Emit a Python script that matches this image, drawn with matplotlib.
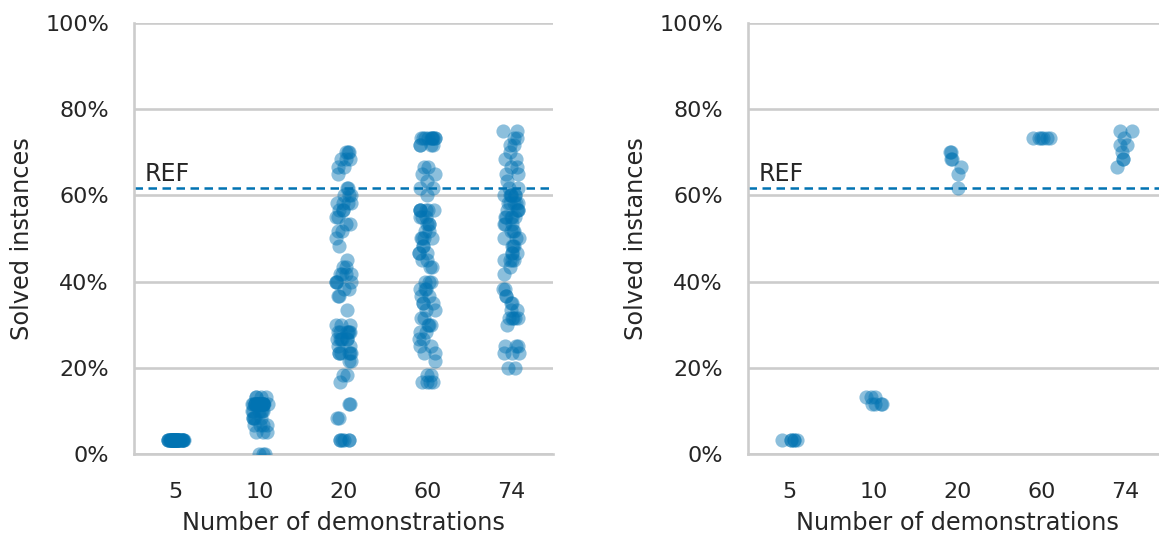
import numpy as np
import pandas as pd
import matplotlib
matplotlib.use("Agg")
import matplotlib.pyplot as plt
import seaborn as sns
from matplotlib.ticker import PercentFormatter

categories = ["5", "10", "20", "60", "74"]
ref_value = 61.67

# ---- left panel: solved-instance percentages (value, count) per category ----
left_5_vals = [3.33]
left_5_counts = [45]
left_10_vals = [13.33, 11.67, 10.0, 8.33, 6.67, 5.0, 0.0]
left_10_counts = [4, 22, 6, 5, 4, 3, 3]
left_20_vals = [70.0, 68.33, 66.67, 65.0, 61.67, 60.0, 58.33, 56.67, 55.0, 53.33,
                51.67, 50.0, 48.33, 45.0, 43.33, 41.67, 40.0, 38.33, 36.67, 33.33,
                30.0, 28.33, 26.67, 25.0, 23.33, 21.67, 18.33, 16.67, 11.67, 8.33, 3.33]
left_20_counts = [3, 3, 2, 1, 2, 3, 4, 3, 2, 2,
                  2, 1, 1, 1, 2, 4, 4, 2, 2, 1,
                  3, 6, 6, 2, 6, 2, 2, 1, 2, 2, 6]
left_60_vals = [73.33, 71.67, 66.67, 65.0, 63.33, 61.67, 60.0, 56.67, 55.0, 53.33,
                51.67, 50.0, 48.33, 46.67, 45.0, 43.33, 40.0, 38.33, 36.67, 35.0,
                33.33, 31.67, 30.0, 28.33, 26.67, 25.0, 23.33, 21.67, 18.33, 16.67]
left_60_counts = [10, 4, 2, 2, 1, 2, 1, 6, 3, 3,
                  2, 4, 2, 3, 2, 2, 3, 3, 2, 3,
                  2, 2, 3, 2, 2, 2, 2, 1, 2, 4]
left_74_vals = [75.0, 73.33, 71.67, 70.0, 68.33, 66.67, 65.0, 63.33, 61.67, 60.0,
                58.33, 56.67, 55.0, 53.33, 51.67, 50.0, 48.33, 46.67, 45.0, 43.33,
                41.67, 38.33, 36.67, 35.0, 33.33, 31.67, 30.0, 25.0, 23.33, 20.0]
left_74_counts = [2, 2, 2, 1, 2, 2, 2, 1, 2, 6,
                  5, 4, 5, 3, 3, 3, 3, 3, 4, 1,
                  1, 2, 2, 2, 2, 5, 1, 3, 3, 2]

# ---- right panel: solved-instance percentages ----
right_5 = [3.33, 3.33, 3.33, 3.33, 3.33, 3.33]
right_10 = [13.33, 13.33, 13.33, 11.67, 11.67, 11.67, 11.67]
right_20 = [70.0, 70.0, 68.33, 68.33, 66.67, 65.0, 61.67]
right_60 = [73.33, 73.33, 73.33, 73.33, 73.33, 73.33]
right_74 = [75.0, 75.0, 73.33, 71.67, 71.67, 70.0, 68.33, 68.33, 66.67]

left_groups = {
    "5": (left_5_vals, left_5_counts),
    "10": (left_10_vals, left_10_counts),
    "20": (left_20_vals, left_20_counts),
    "60": (left_60_vals, left_60_counts),
    "74": (left_74_vals, left_74_counts),
}
right_groups = {"5": right_5, "10": right_10, "20": right_20, "60": right_60, "74": right_74}

rows = []
for cat, (vals, cnts) in left_groups.items():
    for v, c in zip(vals, cnts):
        rows += [(cat, v)] * c
df_left = pd.DataFrame(rows, columns=["demos", "solved"])
rows = []
for cat, vals in right_groups.items():
    rows += [(cat, v) for v in vals]
df_right = pd.DataFrame(rows, columns=["demos", "solved"])

sns.set_theme(style="whitegrid")
plt.rcParams["font.family"] = ["DejaVu Sans"]
TEXT = "#262626"
BLUE = "#0173b2"
GRID = "#cccccc"

np.random.seed(3)
fig = plt.figure(figsize=(11.59, 5.35), dpi=100)
W, H = 1159, 535
axes = []
for left_px in (134, 748):
    ax = fig.add_axes([left_px / W, 81 / H, 419 / W, 431 / H])
    axes.append(ax)

for ax, df in zip(axes, (df_left, df_right)):
    sns.stripplot(data=df, x="demos", y="solved", order=categories, ax=ax,
                  color=BLUE, alpha=0.45, size=10.2, linewidth=0, jitter=True)
    ax.axhline(ref_value, color=BLUE, linestyle=(0, (3.4, 2.2)), linewidth=1.8, zorder=1)
    ax.text(0.025, ref_value + 0.4, "REF", transform=ax.get_yaxis_transform(),
            ha="left", va="bottom", fontsize=17, color=TEXT)
    ax.set_ylim(0, 100)
    ax.set_xlim(-0.5, 4.5)
    ax.set_yticks([0, 20, 40, 60, 80, 100])
    ax.yaxis.set_major_formatter(PercentFormatter(100, decimals=0))
    ax.grid(axis="y", color=GRID, linewidth=1.9)
    ax.grid(axis="x", visible=False)
    ax.set_axisbelow(True)
    for s in ("top", "right"):
        ax.spines[s].set_visible(False)
    for s in ("left", "bottom"):
        ax.spines[s].set_color(GRID)
        ax.spines[s].set_linewidth(1.9)
    ax.tick_params(axis="both", length=0, labelsize=16, labelcolor=TEXT)
    ax.tick_params(axis="y", pad=18)
    ax.tick_params(axis="x", pad=20)
    ax.set_xlabel("Number of demonstrations", fontsize=17.3, color=TEXT, labelpad=7)
    ax.set_ylabel("Solved instances", fontsize=17.3, color=TEXT, labelpad=8)

fig.savefig("out.png", dpi=100)
